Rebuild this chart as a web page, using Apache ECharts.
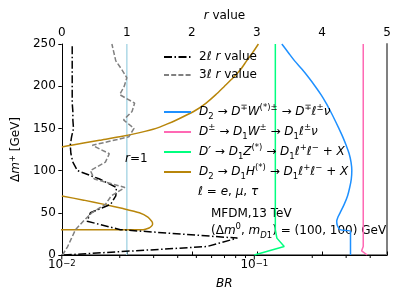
<!DOCTYPE html>
<html><head><meta charset="utf-8">
<script src="https://cdn.jsdelivr.net/npm/echarts@6/dist/echarts.min.js"></script>
<style>html,body{margin:0;padding:0;background:#fff}#c{width:407px;height:305px}</style>
</head><body><div id="c"></div>
<script>
// ---- data ----
const dm2l = [0,10,20,30,40,50,60,70,80,90,100,110,120,130,140,150,160,170,180,190,200,210,220,230,240,250];
const r2l  = [0.03,2.23,2.70,0.90,0.39,0.44,0.75,0.83,0.84,0.58,0.24,0.17,0.14,0.13,0.15,0.18,0.17,0.17,0.16,0.16,0.16,0.16,0.16,0.16,0.16,0.16];
const dm3l = [0,10,20,30,40,50,60,70,80,90,100,110,120,130,140,150,160,170,180,190,200,210,220,230,240,250];
const r3l  = [0.01,0.09,0.15,0.21,0.33,0.46,0.67,0.76,0.97,0.50,0.44,0.67,0.73,0.47,1.03,1.11,0.95,1.08,1.12,0.89,0.96,1.00,0.92,0.83,0.80,0.77];
const dmBlue = [0,10,20,28,30,35,40,45,50,60,70,80,90,100,110,120,130,140,150,160,170,180,190,200,210,220,230,240,250];
const brBlue = [0.316,0.316,0.316,0.316,0.279,0.270,0.268,0.272,0.279,0.293,0.305,0.313,0.319,0.321,0.318,0.311,0.300,0.288,0.275,0.262,0.249,0.236,0.222,0.207,0.192,0.177,0.162,0.150,0.139];
const dmPink = [0,5,10,50,100,150,200,250];
const brPink = [0.386,0.361,0.368,0.368,0.368,0.368,0.368,0.368];
const dmGreen = [0,10,20,30,50,100,150,200,250];
const brGreen = [0.100,0.143,0.131,0.1286,0.1286,0.1286,0.1286,0.1286,0.1286];
const dmGoldLow = [29.9,30,30.5,32,34,36,38,40,45,50,55,60,65,70];
const brGoldLow = [0.004,0.0265,0.0272,0.0284,0.0292,0.0296,0.0296,0.0293,0.0280,0.0253,0.0208,0.0166,0.0130,0.0100];
const dmGoldHigh = [128,130,133,136,140,145,150,155,160,170,180,190,200,210,220,230,240,250];
const brGoldHigh = [0.0100,0.0112,0.0132,0.0157,0.0200,0.0254,0.0309,0.0351,0.0394,0.0484,0.0562,0.0631,0.0700,0.0776,0.0851,0.0912,0.0982,0.1050];
const rOneLine = [1,1];
const dmOneLine = [0,250];
const brMajorTicks = [0.01,0.1];
const brMinorTicks = [0.02,0.03,0.04,0.05,0.06,0.07,0.08,0.09,0.2,0.3,0.4];

const F = 'DejaVu Sans';
const zip = (xs, ys) => xs.map((x, i) => [x, ys[i]]);
const rich = {
  n:   {fontFamily:F, fontSize:12, lineHeight:18, color:'#000'},
  i:   {fontFamily:F, fontSize:12, lineHeight:18, fontStyle:'italic', color:'#000'},
  sup: {fontFamily:F, fontSize:8.5, lineHeight:9, verticalAlign:'top', color:'#000'},
  isup:{fontFamily:F, fontSize:8.5, lineHeight:9, verticalAlign:'top', fontStyle:'italic', color:'#000'},
  sub: {fontFamily:F, fontSize:8.5, lineHeight:9, verticalAlign:'bottom', color:'#000'},
  isub:{fontFamily:F, fontSize:8.5, lineHeight:9, verticalAlign:'bottom', fontStyle:'italic', color:'#000'}
};
const labels = {
  '2l': '{n|2}{i|ℓ r}{n| value}',
  '3l': '{n|3}{i|ℓ r}{n| value}',
  'blue': '{i|D}{sub|2}{n| → }{i|D}{sup|∓}{i|W}{sup|(*)±}{n| → }{i|D}{sup|∓}{i|ℓ}{sup|±}{i|ν}',
  'pink': '{i|D}{sup|±}{n| → }{i|D}{sub|1}{i|W}{sup|±}{n| → }{i|D}{sub|1}{i|ℓ}{sup|±}{i|ν}',
  'green': '{i|D′}{n| → }{i|D}{sub|1}{i|Z}{sup|(*)}{n| → }{i|D}{sub|1}{i|ℓ}{sup|+}{i|ℓ}{sup|−}{n| + }{i|X}',
  'gold': '{i|D}{sub|2}{n| → }{i|D}{sub|1}{i|H}{sup|(*)}{n| → }{i|D}{sub|1}{i|ℓ}{sup|+}{i|ℓ}{sup|−}{n| + }{i|X}'
};

const chart = echarts.init(document.getElementById('c'), null, {renderer:'canvas'});
const tickSeries = {
  type:'custom', xAxisIndex:0, yAxisIndex:0, silent:true, clip:false, z:10,
  data: brMajorTicks.map(v => [v, 0, 3.5]).concat(brMinorTicks.map(v => [v, 0, 2])),
  renderItem: (params, api) => {
    const p = api.coord([api.value(0), api.value(1)]);
    return {type:'line', shape:{x1:p[0], y1:p[1]+1, x2:p[0], y2:p[1]+1+api.value(2)}, style:{stroke:'#000', lineWidth:1}};
  }
};
const legendCommon = {
  orient:'vertical', left:163, padding:0, itemWidth:27, itemHeight:14,
  itemStyle:{opacity:0},
  formatter: n => labels[n],
  textStyle:{fontFamily:F, fontSize:12, color:'#000', rich:rich, padding:[0,0,0,3]}
};
chart.setOption({
  animation:false,
  grid:{left:61, right:20, top:44, bottom:50},
  xAxis:[{
    type:'log', logBase:10, min:0.01, max:0.489, position:'bottom',
    name:'BR', nameLocation:'middle', nameGap:23,
    nameTextStyle:{fontFamily:F, fontSize:12, fontStyle:'italic', color:'#000'},
    axisLine:{lineStyle:{color:'#808080', width:2}},
    axisTick:{show:false}, splitLine:{show:false}, minorTick:{show:false},
    axisLabel:{margin:4, color:'#000', fontFamily:F, fontSize:12,
      formatter: v => { const e = Math.round(Math.log10(v)); return (brMajorTicks.some(t => Math.abs(t-v) < 1e-9)) ? '10{s|−' + (-e) + '}' : ''; },
      rich:{s:{fontFamily:F, fontSize:8.5, verticalAlign:'top', lineHeight:9, color:'#000'}}}
  },{
    type:'value', min:0, max:5, interval:1, position:'top',
    name:'{i|r}{n| value}', nameLocation:'middle', nameGap:17,
    nameTextStyle:{rich:{i:{fontFamily:F,fontSize:12,fontStyle:'italic',color:'#000'}, n:{fontFamily:F,fontSize:12,color:'#000'}}},
    axisLine:{lineStyle:{color:'#000', width:1}},
    axisTick:{length:3.5, lineStyle:{color:'#000'}},
    splitLine:{show:false},
    axisLabel:{margin:5, color:'#000', fontFamily:F, fontSize:12}
  }],
  yAxis:[{
    type:'value', min:0, max:250, interval:50, position:'left',
    name:'{n|Δ}{i|m}{s|+}{n| [GeV]}', nameLocation:'middle', nameGap:19,
    nameTextStyle:{rich:{n:{fontFamily:F,fontSize:12,color:'#000',lineHeight:16}, i:{fontFamily:F,fontSize:12,fontStyle:'italic',color:'#000',lineHeight:16}, s:{fontFamily:F,fontSize:8.5,color:'#000',verticalAlign:'top',lineHeight:9}}},
    axisLine:{lineStyle:{color:'#000', width:1}},
    axisTick:{length:3.5, lineStyle:{color:'#000'}},
    splitLine:{show:false},
    axisLabel:{margin:6, color:'#000', fontFamily:F, fontSize:12}
  },{
    type:'value', min:0, max:250, position:'right',
    axisLine:{show:true, lineStyle:{color:'#808080', width:2}},
    axisTick:{show:false}, axisLabel:{show:false}, splitLine:{show:false}
  }],
  legend:[
    Object.assign({data:['2l','3l'], top:51, itemGap:6}, legendCommon),
    Object.assign({data:['blue','pink','green','gold'], top:103, itemGap:2}, legendCommon)
  ],
  graphic:[
    {type:'text', left:198, top:186, style:{text:'{i|ℓ}{n| = }{i|e}{n|, }{i|μ}{n|, }{i|τ}', rich:rich}},
    {type:'text', left:211, top:208, style:{text:'MFDM,13 TeV', fontFamily:F, fontSize:12, fill:'#000'}},
    {type:'text', left:211, top:222, style:{text:'{n|(Δ}{i|m}{sup|0}{n|, }{i|m}{isub|D}{sub|1}{n|) = (100, 100) GeV}', rich:rich}},
    {type:'text', left:125, top:153, z:5, style:{text:'{i|r}{n|=1}', rich:{i:{fontFamily:F,fontSize:12,fontStyle:'italic',color:'#ADD8E6'}, n:{fontFamily:F,fontSize:12,color:'#ADD8E6'}}}}
  ],
  series:[
    {name:'r1', type:'line', xAxisIndex:1, yAxisIndex:0, data:zip(rOneLine, dmOneLine), symbol:'none', color:'#ADD8E6', lineStyle:{color:'#ADD8E6', width:1.5}, z:1},
    {name:'blue', type:'line', xAxisIndex:0, yAxisIndex:0, data:zip(brBlue, dmBlue), symbol:'none', color:'#1E90FF', lineStyle:{width:1.5}, smooth:0.3},
    {name:'pink', type:'line', xAxisIndex:0, yAxisIndex:0, data:zip(brPink, dmPink), symbol:'none', color:'#FF69B4', lineStyle:{width:1.5}},
    {name:'green', type:'line', xAxisIndex:0, yAxisIndex:0, data:zip(brGreen, dmGreen), symbol:'none', color:'#00FF7F', lineStyle:{width:1.5}},
    {name:'gold', type:'line', xAxisIndex:0, yAxisIndex:0, data:zip(brGoldLow, dmGoldLow), symbol:'none', color:'#B8860B', lineStyle:{width:1.5}, smooth:0.2},
    {name:'gold', type:'line', xAxisIndex:0, yAxisIndex:0, data:zip(brGoldHigh, dmGoldHigh), symbol:'none', color:'#B8860B', lineStyle:{width:1.5}, smooth:0.2},
    {name:'2l', type:'line', xAxisIndex:1, yAxisIndex:0, data:zip(r2l, dm2l), symbol:'none', color:'#000', lineStyle:{width:1.5, type:[8,2.5,1.5,2.5]}},
    {name:'3l', type:'line', xAxisIndex:1, yAxisIndex:0, data:zip(r3l, dm3l), symbol:'none', color:'#808080', lineStyle:{width:1.5, type:[5,2.2]}},
    tickSeries
  ]
});
</script></body></html>
